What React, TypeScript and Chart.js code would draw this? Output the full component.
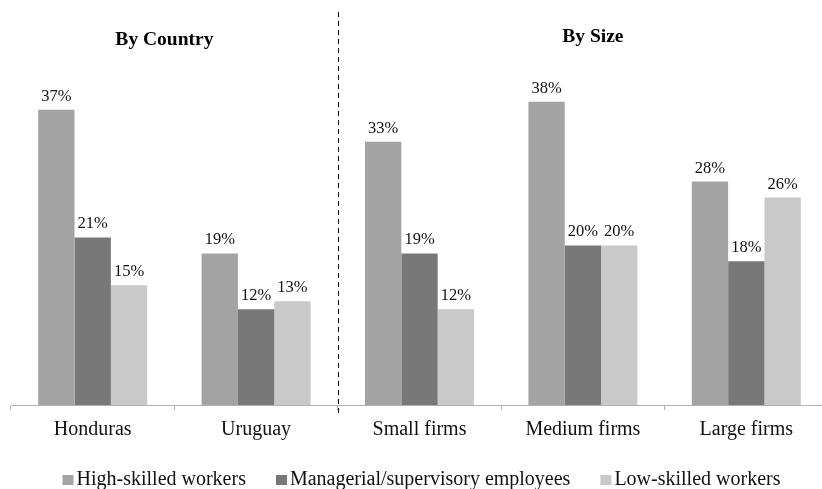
import React, { useEffect, useRef } from "react";
import { Chart, registerables } from "chart.js";

Chart.register(...registerables);

const categories = ["Honduras", "Uruguay", "Small firms", "Medium firms", "Large firms"];
const seriesNames = ["High-skilled workers", "Managerial/supervisory employees", "Low-skilled workers"];
const highSkilled = [37, 19, 33, 38, 28];
const managerial = [21, 12, 19, 20, 18];
const lowSkilled = [15, 13, 12, 20, 26];
const groupTitles = ["By Country", "By Size"];
const colors = ["#a2a3a2", "#787878", "#c9c9c9"];

const FONT = "'Liberation Serif', 'Times New Roman', serif";

const overlayPlugin = {
  id: "overlay",
  afterDatasetsDraw(chart: any) {
    const ctx = chart.ctx;
    const x = chart.scales.x;
    const area = chart.chartArea;
    ctx.save();
    // value labels
    ctx.font = `16.5px ${FONT}`;
    ctx.fillStyle = "#111";
    ctx.textAlign = "center";
    ctx.textBaseline = "alphabetic";
    chart.data.datasets.forEach((ds: any, di: number) => {
      const meta = chart.getDatasetMeta(di);
      meta.data.forEach((bar: any, i: number) => {
        ctx.fillText(ds.data[i] + "%", bar.x, bar.y - 9);
      });
    });
    // dashed separator between the two groups
    const sepX = Math.round((x.getPixelForValue(1) + x.getPixelForValue(2)) / 2) + 0.5;
    ctx.strokeStyle = "#000";
    ctx.lineWidth = 1;
    ctx.setLineDash([5, 4]);
    ctx.beginPath();
    ctx.moveTo(sepX, 12);
    ctx.lineTo(sepX, area.bottom + 8);
    ctx.stroke();
    ctx.setLineDash([]);
    // group titles
    ctx.font = `bold 19.5px ${FONT}`;
    ctx.fillStyle = "#000";
    const t1x = (x.getPixelForValue(0) + x.getPixelForValue(1)) / 2 - 10;
    const t2x = x.getPixelForValue(3) + 10;
    ctx.fillText(groupTitles[0], t1x, 45);
    ctx.fillText(groupTitles[1], t2x, 42);
    // legend
    ctx.font = `20px ${FONT}`;
    const box = 11, gap = 3, spacing = 30;
    const widths = chart.data.datasets.map((ds: any) => box + gap + ctx.measureText(ds.label).width);
    const total = widths.reduce((a: number, b: number) => a + b, 0) + spacing * (widths.length - 1);
    let lx = (area.left + area.right) / 2 - total / 2 + 2;
    const ly = 485;
    ctx.textAlign = "left";
    ctx.textBaseline = "alphabetic";
    chart.data.datasets.forEach((ds: any, di: number) => {
      ctx.fillStyle = ds.backgroundColor;
      ctx.fillRect(lx, ly - 10, box, 10);
      ctx.fillStyle = "#111";
      ctx.fillText(ds.label, lx + box + gap, ly);
      lx += widths[di] + spacing;
    });
    ctx.restore();
  },
};

export default function App() {
  const ref = useRef<HTMLCanvasElement>(null);
  useEffect(() => {
    if (!ref.current) return;
    const seriesData = [highSkilled, managerial, lowSkilled];
    const chart = new Chart(ref.current, {
      type: "bar",
      data: {
        labels: categories,
        datasets: seriesNames.map((name, i) => ({
          label: name,
          data: seriesData[i],
          backgroundColor: colors[i],
          borderWidth: 0,
          categoryPercentage: 0.667,
          barPercentage: 1,
        })),
      },
      options: {
        responsive: false,
        devicePixelRatio: 1,
        animation: false,
        layout: { padding: { left: 11, right: 2, top: 6, bottom: 0 } },
        plugins: { legend: { display: false }, tooltip: { enabled: false }, title: { display: false } },
        scales: {
          x: {
            offset: true,
            grid: { display: true, drawOnChartArea: false, drawTicks: true, tickLength: 5, color: "#b0b0b0", offset: true },
            border: { display: true, color: "#b0b0b0", width: 1 },
            ticks: { color: "#111", font: { family: FONT, size: 20 }, padding: 8, maxRotation: 0, autoSkip: false },
            afterFit: (s: any) => { s.height = 84; },
          },
          y: { display: false, min: 0, max: 50 },
        },
      },
      plugins: [overlayPlugin],
    });
    return () => chart.destroy();
  }, []);
  return (
    <div style={{ position: "fixed", left: 0, top: 0, width: 822, height: 489, overflow: "hidden", background: "#fff" }}>
      <canvas ref={ref} width={830} height={489} style={{ display: "block", width: 830, height: 489 }} />
    </div>
  );
}
